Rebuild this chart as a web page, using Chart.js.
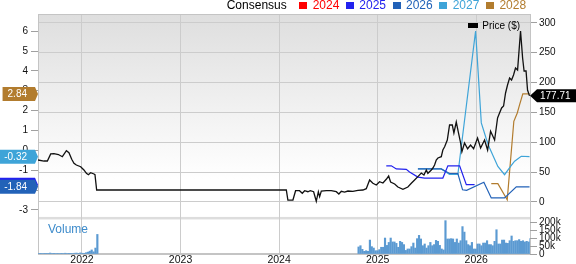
<!DOCTYPE html>
<html><head><meta charset="utf-8">
<script src="https://cdn.jsdelivr.net/npm/chart.js@4.4.1/dist/chart.umd.min.js"></script>
<style>
html,body{margin:0;padding:0;background:#fff;width:576px;height:264px;overflow:hidden;font-family:"Liberation Sans",Arial,sans-serif;}
#wrap{position:relative;width:576px;height:264px;}
canvas{position:absolute;left:0;top:0;}
#legend{position:absolute;left:226.7px;top:-2px;height:14px;display:flex;align-items:flex-start;font-size:12px;line-height:14px;white-space:nowrap;}
#legend .item{display:flex;align-items:flex-start;margin-left:12.6px;}
#legend .item + .item{margin-left:6.7px;}
#legend .sq{width:8px;height:7.5px;margin-top:3.5px;margin-right:5.3px;}
#priceLegend{position:absolute;left:468.3px;top:19.5px;font-size:10px;line-height:12px;white-space:nowrap;}
#priceLegend .bx{display:inline-block;width:10px;height:5px;background:#000;margin-right:4px;vertical-align:1px;}
#volLabel{position:absolute;left:48px;top:222px;font-size:12px;line-height:14px;color:#3d8bcb;}
</style></head><body>
<div id="wrap">
<canvas id="main" width="576" height="264"></canvas>
<canvas id="vol" width="576" height="264"></canvas>
<div id="legend"><span>Consensus</span></div>
<div id="priceLegend"><span class="bx"></span>Price ($)</div>
<div id="volLabel">Volume</div>
</div>
<script>
// ---------- data ----------
const yearTicks = [2022, 2023, 2024, 2025, 2026];
const epsTicks = [-3, -2, -1, 0, 1, 2, 3, 4, 5, 6];
const priceTicks = [0, 50, 100, 150, 200, 250, 300];
const volumeTicksK = [0, 50, 100, 150, 200];

const consensusYears = ['2024', '2025', '2026', '2027', '2028'];
const consensusColors = ['#ff0000', '#2222ee', '#2262b8', '#3ea4d8', '#b27c2e'];

const priceDates = [2021.554,2021.615,2021.649,2021.683,2021.716,2021.761,2021.801,2021.842,2021.868,2021.896,2021.919,2021.943,2021.987,2022.020,2022.045,2022.065,2022.088,2022.122,2022.132,2022.149,
2024.073,2024.089,2024.140,2024.167,2024.207,2024.235,2024.259,2024.292,2024.316,2024.350,2024.377,2024.398,2024.411,2024.428,2024.479,2024.529,2024.580,2024.606,2024.631,2024.664,2024.698,2024.748,2024.799,2024.850,2024.884,2024.918,2024.951,2024.986,2025.019,
2025.053,2025.087,2025.111,2025.131,2025.172,2025.205,2025.256,2025.306,2025.341,2025.374,2025.408,2025.442,2025.469,2025.493,2025.509,2025.544,2025.560,2025.577,2025.594,2025.611,2025.645,2025.661,2025.679,2025.706,2025.729,2025.757,2025.773,2025.797,2025.820,2025.841,2025.854,2025.881,2025.912,2025.942,2025.973,2026.013,2026.044,2026.084,2026.115,2026.145,2026.186,2026.216,2026.236,2026.257,2026.277,2026.297,2026.317,2026.338,2026.358,2026.378,2026.398,2026.419,2026.449,2026.470,2026.485,2026.505,2026.520,2026.540];
const priceValues = [70.3,68.6,68.6,80.4,80.9,79.5,75.8,85.9,82.5,71.5,64.8,61.9,59.1,53.6,48.0,45.7,49.0,46.9,45.7,20.1,
20.1,3.3,3.3,18.9,18.9,14.6,18.9,17.2,18.9,17.2,1.2,17.2,8.9,18.4,18.9,18.9,17.2,13.4,17.9,16.7,18.4,17.9,19.6,20.1,22.3,36.8,31.3,28.5,34.0,
31.8,38.0,43.5,33.5,30.1,25.1,21.3,25.1,31.3,36.8,42.4,48.5,45.2,53.6,48.0,53.6,56.9,61.9,70.3,73.7,75.8,87.0,92.6,103.8,128.9,128.9,115.5,133.9,115.5,98.8,84.2,98.8,89.2,95.4,89.2,107.1,90.4,103.8,87.0,118.4,103.8,140.6,149.0,157.4,160.7,182.5,195.9,207.6,204.2,212.6,224.3,221.0,286.3,241.1,219.3,219.3,187.5,177.71];

const eps2025Dates = [2025.087,2025.138,2025.189,2025.290,2025.323,2025.408,2025.476,2025.661,2025.712,2025.831,2025.899,2025.983];
const eps2025 = [-0.78,-0.78,-0.94,-0.96,-1.09,-1.35,-1.40,-1.40,-0.78,-0.78,-1.73,-1.73];
const eps2026Dates = [2025.408,2025.645,2025.729,2025.813,2025.861,2025.902,2026.077,2026.152,2026.287,2026.406,2026.540];
const eps2026 = [-0.94,-0.94,-1.17,-1.17,-1.99,-2.02,-1.61,-2.40,-2.40,-1.84,-1.84];
const eps2027Dates = [2025.408,2025.645,2025.729,2025.813,2025.993,2026.051,2026.105,2026.135,2026.219,2026.287,2026.348,2026.389,2026.456,2026.540];
const eps2027 = [-0.94,-0.94,-1.22,-1.22,6.01,1.38,0.52,0.12,-0.81,-1.23,-0.81,-0.55,-0.30,-0.32];
const eps2028Dates = [2026.152,2026.219,2026.314,2026.381,2026.416,2026.439,2026.472,2026.540];
const eps2028 = [-1.68,-1.68,-2.49,1.46,1.88,2.29,2.84,2.84];

// weekly volume (thousands of shares)
const volEarlyStart = 2021.562;
const volEarlyK = [2,2,3,2,2,4,6,3,2,3,4,3,2,3,5,3,2,4,3,5,6,4,7,5,4,8,12,18,26,14,38,125];
const volRecentStart = 2024.806;
const volRecentK = [45,53,30,17,21,17,89,47,38,21,21,28,43,43,102,55,74,102,77,77,68,43,81,74,60,23,32,32,47,70,38,98,119,96,53,64,38,53,74,53,60,87,81,55,32,26,213,96,
96,98,96,74,96,70,85,175,140,85,60,53,74,32,32,64,64,53,70,70,85,60,60,53,81,155,64,64,89,89,70,68,85,115,81,85,85,92,81,85,77,81,77,98];

// ---------- layout / axis ranges ----------
const WEEK = 7 / 365.25;
const X_MIN = 2021.554, X_MAX = 2026.545;
const EPS_MIN = -5.224, EPS_MAX = 6.866;
const PRICE_MIN = -87.06, PRICE_MAX = 314.75;
const VOL_MAX_K = 1533.5;
const PANEL_SPLIT_PRICE = -25; // price-axis value where the main panel ends
const FONT = '"Liberation Sans", Arial, sans-serif';

Chart.defaults.font.family = FONT;
Chart.defaults.color = '#111';
Chart.defaults.animation = false;

// legend
const leg = document.getElementById('legend');
consensusYears.forEach((y, i) => {
  const it = document.createElement('span');
  it.className = 'item';
  it.innerHTML = '<span class="sq" style="background:' + consensusColors[i] + '"></span><span style="color:' + consensusColors[i] + '">' + y + '</span>';
  leg.appendChild(it);
});

const pts = (xs, ys) => xs.map((x, i) => ({x: x, y: ys[i]}));
const weekly = (start, ys) => ys.map((v, i) => ({x: start + i * WEEK, y: v}));

const lineDs = (label, data, color, axis, w) => ({
  label, data, borderColor: color, backgroundColor: color, borderWidth: w,
  pointRadius: 0, tension: 0, yAxisID: axis, fill: false
});

const bgPlugin = {
  id: 'bg',
  beforeDraw(chart) {
    const {ctx, chartArea: a} = chart;
    const split = chart.scales.yP.getPixelForValue(PANEL_SPLIT_PRICE);
    ctx.save();
    const g = ctx.createLinearGradient(0, a.top, 0, a.top + 165);
    g.addColorStop(0, '#dedede');
    g.addColorStop(1, '#ffffff');
    ctx.fillStyle = g;
    ctx.fillRect(a.left, a.top, a.right - a.left, split - a.top);
    ctx.fillStyle = '#dddddd';
    ctx.fillRect(a.left, split, a.right - a.left, 2.5);
    ctx.restore();
  },
  afterDraw(chart) {
    const {ctx, chartArea: a} = chart;
    ctx.save();
    ctx.strokeStyle = '#c4c4c4';
    ctx.lineWidth = 1;
    ctx.beginPath();
    ctx.moveTo(a.left, a.top + 0.5); ctx.lineTo(a.right, a.top + 0.5);
    ctx.moveTo(a.left, a.bottom - 0.5); ctx.lineTo(a.right, a.bottom - 0.5);
    ctx.stroke();
    // tags
    ctx.font = '10px ' + FONT;
    ctx.textBaseline = 'middle';
    const yE = chart.scales.yE, yP = chart.scales.yP;
    const leftTag = (val, color) => {
      const y = yE.getPixelForValue(val);
      const txt = val.toFixed(2);
      const w = ctx.measureText(txt).width;
      const tip = a.left, right = tip - 3, tr = right - 8, l = tr - w - 5, h = 14;
      ctx.fillStyle = color;
      ctx.beginPath();
      ctx.moveTo(l, y - h / 2); ctx.lineTo(right, y - h / 2); ctx.lineTo(tip, y);
      ctx.lineTo(right, y + h / 2); ctx.lineTo(l, y + h / 2); ctx.closePath(); ctx.fill();
      ctx.fillStyle = '#fff'; ctx.textAlign = 'right';
      ctx.fillText(txt, tr, y + 0.5);
    };
    const epsSeries = [eps2025, eps2026, eps2027, eps2028];
    epsSeries.forEach((s, i) => leftTag(s[s.length - 1], consensusColors[i + 1]));
    // price tag
    const pv = priceValues[priceValues.length - 1];
    const py = yP.getPixelForValue(pv);
    const tip = a.right, bl = tip + 7, h = 13;
    ctx.fillStyle = '#000';
    ctx.beginPath();
    ctx.moveTo(tip, py); ctx.lineTo(bl, py - h / 2); ctx.lineTo(576, py - h / 2);
    ctx.lineTo(576, py + h / 2); ctx.lineTo(bl, py + h / 2); ctx.closePath(); ctx.fill();
    ctx.fillStyle = '#fff'; ctx.textAlign = 'left';
    ctx.fillText(pv.toFixed(2), bl + 3, py + 0.5);
    ctx.restore();
  }
};

new Chart(document.getElementById('main'), {
  type: 'line',
  data: {
    datasets: [
      lineDs('Price ($)', pts(priceDates, priceValues), '#111111', 'yP', 1.3),
      lineDs('2025', pts(eps2025Dates, eps2025), consensusColors[1], 'yE', 1.2),
      lineDs('2026', pts(eps2026Dates, eps2026), consensusColors[2], 'yE', 1.2),
      lineDs('2027', pts(eps2027Dates, eps2027), consensusColors[3], 'yE', 1.2),
      lineDs('2028', pts(eps2028Dates, eps2028), consensusColors[4], 'yE', 1.2)
    ]
  },
  options: {
    responsive: false,
    animation: false,
    layout: {padding: {top: 14, left: 0, right: 0, bottom: 0}},
    plugins: {legend: {display: false}, tooltip: {enabled: false}},
    scales: {
      x: {
        type: 'linear', min: X_MIN, max: X_MAX, offset: false,
        afterBuildTicks: s => { s.ticks = yearTicks.map(v => ({value: v})); },
        afterFit: s => { s.height = 10; },
        ticks: {callback: v => String(v), font: {size: 10.5}, padding: 0, maxRotation: 0, autoSkip: false, color: '#111'},
        grid: {color: '#cccccc', drawTicks: false},
        border: {display: true, color: '#c4c4c4'}
      },
      yE: {
        position: 'left', min: EPS_MIN, max: EPS_MAX,
        afterBuildTicks: s => { s.ticks = epsTicks.map(v => ({value: v})); },
        afterFit: s => { s.width = 38; },
        ticks: {callback: v => String(v), font: {size: 10}, padding: 3, autoSkip: false, color: '#111'},
        grid: {drawOnChartArea: false, tickLength: 7, tickColor: '#a0a0a0'},
        border: {display: true, color: '#c4c4c4'}
      },
      yP: {
        position: 'right', min: PRICE_MIN, max: PRICE_MAX,
        afterBuildTicks: s => { s.ticks = priceTicks.map(v => ({value: v})); },
        afterFit: s => { s.width = 46; },
        ticks: {callback: v => String(v), font: {size: 10}, padding: 2, autoSkip: false, color: '#111'},
        grid: {color: '#cccccc', tickLength: 7, tickColor: '#a0a0a0'},
        border: {display: true, color: '#c4c4c4'}
      }
    }
  },
  plugins: [bgPlugin]
});

new Chart(document.getElementById('vol'), {
  type: 'bar',
  data: {
    datasets: [
      {label: 'Volume', data: weekly(volEarlyStart, volEarlyK).concat(weekly(volRecentStart, volRecentK)),
       backgroundColor: '#5b9ad2', barThickness: 1.5, yAxisID: 'yV'}
    ]
  },
  options: {
    responsive: false,
    animation: false,
    layout: {padding: {top: 14, left: 38, right: 0, bottom: 10}},
    plugins: {legend: {display: false}, tooltip: {enabled: false}},
    scales: {
      x: {type: 'linear', min: X_MIN, max: X_MAX, offset: false, display: false},
      yV: {
        position: 'right', min: 0, max: VOL_MAX_K,
        afterBuildTicks: s => { s.ticks = volumeTicksK.map(v => ({value: v})); },
        afterFit: s => { s.width = 46; },
        ticks: {callback: v => v === 0 ? '0' : v + 'k', font: {size: 10}, padding: 2, autoSkip: false, color: '#111'},
        grid: {drawOnChartArea: false, tickLength: 7, tickColor: '#a0a0a0'},
        border: {display: false}
      }
    }
  }
});
</script>
</body></html>
